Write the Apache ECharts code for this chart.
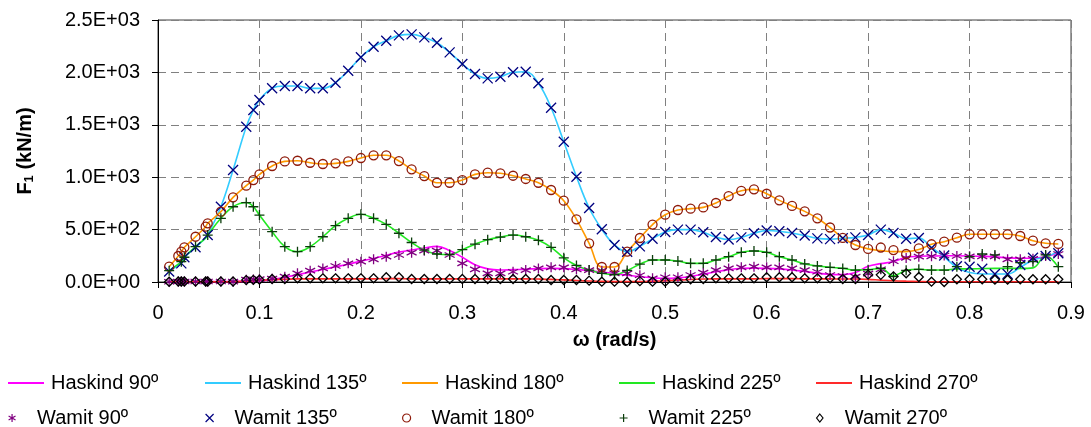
<!DOCTYPE html>
<html>
<head>
<meta charset="utf-8">
<script src="https://cdn.jsdelivr.net/npm/echarts@6/dist/echarts.min.js"></script>
<style>
html,body{margin:0;padding:0;background:#fff;}
#chart{width:1091px;height:427px;}
</style>
</head>
<body>
<div id="chart"></div>
<script>
// Frequency samples (rad/s)
const OMEGA = [0.011,0.020,0.023,0.026,0.037,0.047,0.049,0.062,0.074,0.087,0.094,0.1,
  0.1125,0.125,0.1375,0.15,0.1625,0.175,0.1875,0.2,0.2125,0.225,0.2375,
  0.25,0.2625,0.275,0.2875,0.3,0.3125,0.325,0.3375,0.35,0.3625,0.375,0.3875,
  0.4,0.4125,0.425,0.4375,0.45,0.4625,0.475,0.4875,
  0.5,0.5125,0.525,0.5375,0.55,0.5625,0.575,0.5875,
  0.6,0.6125,0.625,0.6375,0.65,0.6625,0.675,0.6875,
  0.7,0.7125,0.725,0.7375,0.75,0.7625,0.775,0.7875,
  0.8,0.8125,0.825,0.8375,0.85,0.8625,0.875,0.8875];

const HASKIND_90 = [4,4,4,4,4,4,4,4,5,7,9,12,
  25,45,70,95,120,145,170,200,225,255,285,
  305,325,340,300,236,165,125,114,118,122,128,130,
  128,120,110,95,80,65,50,40,
  35,40,52,75,98,118,130,132,
  130,125,115,100,85,72,70,90,
  150,175,195,235,245,248,250,250,
  248,245,240,230,226,226,242,280];
const WAMIT_90 = [2,5,5,5,5,5,5,5,3,22,25,28,
  32,51,83,108,130,153,178,194,216,242,258,
  280,299,299,258,178,121,83,83,98,114,130,140,
  140,121,114,108,83,83,64,35,
  45,45,67,89,114,130,140,146,
  140,140,130,114,98,67,57,51,
  80,122,198,230,242,245,253,248,
  245,245,245,216,216,221,248,267];

const HASKIND_135 = [100,160,178,236,331,420,448,718,1069,1482,1641,1737,
  1848,1870,1870,1848,1848,1902,2016,2144,2245,2302,2353,
  2363,2334,2283,2191,2080,1984,1943,1959,2001,2006,1896,1663,
  1338,1005,706,503,353,289,340,412,
  477,500,500,474,429,405,426,465,
  492,485,467,443,416,409,417,426,
  448,500,468,412,420,330,240,140,
  90,76,76,76,140,210,240,290];
const WAMIT_135 = [100,null,178,236,331,null,448,718,1069,1482,1641,1737,
  1848,1870,1870,1848,1848,1902,2016,2144,2245,2302,2353,
  2363,2334,2283,2191,2080,1984,1943,1959,2001,2006,1896,1663,
  1338,1005,706,503,353,289,340,412,
  477,500,500,474,429,405,426,465,
  492,485,467,443,416,409,417,426,
  448,500,468,412,420,325,253,150,
  146,127,76,76,162,232,248,275];

const HASKIND_180 = [146,248,289,331,432,528,560,671,808,919,973,1027,
  1107,1151,1157,1138,1126,1132,1151,1183,1209,1209,1154,
  1075,1011,947,947,973,1027,1043,1037,1014,983,947,878,
  776,598,369,143,143,289,420,548,
  642,687,700,712,754,820,870,884,
  842,779,726,674,608,520,421,353,
  316,300,290,290,310,360,385,423,
  455,455,455,455,439,394,369,363];
const WAMIT_180 = [146,248,289,331,432,528,560,671,808,919,973,1027,
  1107,1151,1157,1138,1126,1132,1151,1183,1209,1209,1154,
  1075,1011,947,947,973,1027,1043,1037,1014,983,947,878,
  776,598,369,143,143,289,420,548,
  642,687,700,712,754,820,870,884,
  842,779,726,674,608,520,421,353,
  316,329,305,267,321,360,385,423,
  455,455,455,455,439,394,369,363];

const HASKIND_225 = [108,170,194,236,337,420,448,608,718,758,718,639,
  480,337,289,337,432,537,608,646,608,550,465,
  377,305,267,262,308,361,404,429,448,432,398,331,
  231,158,114,83,70,110,170,210,
  210,200,178,178,210,242,283,296,
  283,242,210,172,153,140,130,114,
  118,130,60,111,121,114,114,125,
  125,128,130,130,130,135,250,140];
const WAMIT_225 = [108,null,194,236,337,null,448,608,718,758,718,639,
  480,337,289,337,432,537,608,646,608,550,465,
  377,305,267,262,308,361,404,429,448,432,398,331,
  231,158,114,83,70,110,170,210,
  210,200,178,178,210,242,283,296,
  283,242,210,172,153,140,130,114,
  118,130,51,111,121,114,114,146,
  242,267,258,146,184,194,258,146];

const HASKIND_270 = [3,3,3,3,3,3,3,3,3,8,12,16,
  22,26,30,30,30,30,30,30,30,32,32,
  30,30,30,30,30,30,30,30,30,30,28,25,
  20,15,10,6,4,4,5,8,
  12,18,24,28,30,30,30,30,
  32,32,32,30,30,30,28,28,
  25,18,12,8,5,3,3,3,
  3,3,3,3,3,3,3,3];
const WAMIT_270 = [2,5,5,5,5,5,5,5,5,18,20,22,
  29,29,35,35,35,35,35,35,35,45,45,
  29,29,29,29,29,29,29,29,29,29,29,19,
  19,19,13,3,3,0,8,3,
  3,3,26,29,35,35,35,35,
  45,45,45,35,35,35,29,29,
  70,68,54,83,48,3,0,26,
  26,26,22,22,26,26,26,26];

const HEADINGS = ['90º','135º','180º','225º','270º'];
const X_TICKS = [0,0.1,0.2,0.3,0.4,0.5,0.6,0.7,0.8,0.9];
const Y_TICKS = [0,500,1000,1500,2000,2500];

const FONT = '"Liberation Sans", Arial, sans-serif';
const LINE_COLORS = ['#ff00ff','#33ccff','#ff9900','#22e822','#ff2a2a'];
const MARK_COLORS = ['#800080','#000080','#8e1a0a','#0b3d0b','#000000'];
const SYMBOLS = [
  'path://M5,0L5,10M0.67,2.5L9.33,7.5M0.67,7.5L9.33,2.5',
  'path://M0,0L10,10M10,0L0,10',
  'circle',
  'path://M5,0L5,10M0,5L10,5',
  'path://M5,0L9,5L5,10L1,5Z'
];
const SYM_SIZE = [10,10,9,10,9];

function pairs(vals){
  const out=[];
  for(let i=0;i<OMEGA.length;i++){ if(vals[i]!==null) out.push([OMEGA[i],vals[i]]); }
  return out;
}
function sci(v){
  if(v===0) return '0.0E+00';
  const e=Math.floor(Math.log10(v)+1e-9);
  const m=v/Math.pow(10,e);
  return m.toFixed(1)+'E+'+String(e).padStart(2,'0');
}

const HASK = [HASKIND_90,HASKIND_135,HASKIND_180,HASKIND_225,HASKIND_270];
const WAM = [WAMIT_90,WAMIT_135,WAMIT_180,WAMIT_225,WAMIT_270];

const series=[];
for(let k=0;k<5;k++){
  series.push({
    name:'Haskind '+HEADINGS[k], type:'line', data:pairs(HASK[k]),
    smooth:0.4, symbol:'none', showSymbol:false,
    lineStyle:{color:LINE_COLORS[k],width:1.6},
    itemStyle:{color:LINE_COLORS[k]}, z:2
  });
}
for(let k=0;k<5;k++){
  series.push({
    name:'Wamit '+HEADINGS[k], type:'scatter', data:pairs(WAM[k]),
    symbol:SYMBOLS[k], symbolSize:SYM_SIZE[k],
    itemStyle:{color:'transparent',borderColor:MARK_COLORS[k],borderWidth:1.3,opacity:1},
    z:3
  });
}

const COL_LEFT=[8,205,402,619,816];
const legends=[];
for(let k=0;k<5;k++){
  legends.push({
    data:[{name:'Haskind '+HEADINGS[k],icon:'rect'}], left:COL_LEFT[k], top:373, padding:0,
    itemWidth:36, itemHeight:2, itemGap:0, selectedMode:false,
    textStyle:{fontSize:20,color:'#000',fontFamily:FONT,padding:[0,0,0,2]},
    itemStyle:{color:LINE_COLORS[k],borderWidth:0}
  });
  legends.push({
    data:['Wamit '+HEADINGS[k]], left:COL_LEFT[k], top:408, padding:0,
    itemWidth:36, itemHeight:8, itemGap:0, selectedMode:false,
    textStyle:{fontSize:20,color:'#000',fontFamily:FONT,padding:[0,0,0,2]},
    itemStyle:{color:'transparent',borderColor:MARK_COLORS[k],borderWidth:1.2}
  });
}

const chart=echarts.init(document.getElementById('chart'),null,{renderer:'canvas'});
chart.setOption({
  animation:false,
  backgroundColor:'#fff',
  grid:{left:158,right:20,top:20,bottom:145,show:true,borderColor:'#404040',borderWidth:1,containLabel:false,outerBoundsMode:'none'},
  legend:legends,
  xAxis:{
    type:'value', min:X_TICKS[0], max:X_TICKS[X_TICKS.length-1], interval:0.1,
    name:'ω (rad/s)', nameLocation:'middle', nameGap:48,
    nameTextStyle:{fontSize:20,fontWeight:'bold',color:'#000',fontFamily:FONT},
    axisLine:{onZero:false,lineStyle:{color:'#000',width:1}},
    axisTick:{show:true,length:6,lineStyle:{color:'#000'}},
    axisLabel:{fontSize:20,color:'#000',fontFamily:FONT,margin:21,
      formatter:v=>v===0?'0':v.toFixed(1)},
    splitLine:{show:true,lineStyle:{color:'#808080',width:1,type:[8,5]}}
  },
  yAxis:{
    type:'value', min:Y_TICKS[0], max:Y_TICKS[Y_TICKS.length-1], interval:500,
    name:'{b|F}{s|1}{b| (kN/m)}', nameLocation:'middle', nameGap:122, nameRotate:90,
    nameTextStyle:{color:'#000',fontFamily:FONT,
      rich:{b:{fontSize:20,fontWeight:'bold',fontFamily:FONT,color:'#000'},
            s:{fontSize:13,fontWeight:'bold',fontFamily:FONT,color:'#000',verticalAlign:'bottom',padding:[8,0,0,0]}}},
    axisLine:{show:true,lineStyle:{color:'#000',width:1}},
    axisTick:{show:true,length:6,lineStyle:{color:'#000'}},
    axisLabel:{fontSize:20,color:'#000',fontFamily:FONT,margin:18,formatter:sci},
    splitLine:{show:true,lineStyle:{color:'#808080',width:1,type:[8,5]}}
  },
  series:series
});
</script>
</body>
</html>
